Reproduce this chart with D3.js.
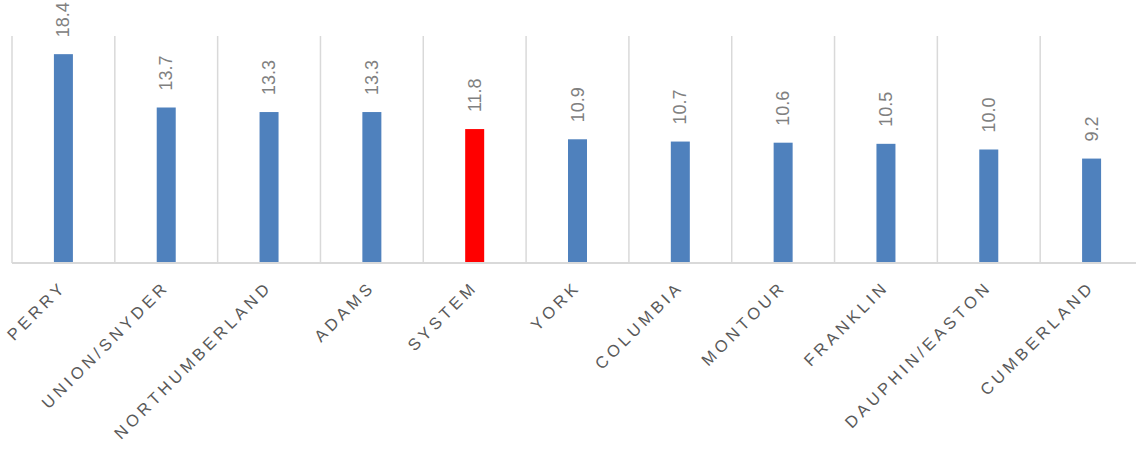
<!DOCTYPE html>
<html>
<head>
<meta charset="utf-8">
<title>Bar chart</title>
<script src="https://d3js.org/d3.v7.min.js"></script>
<style>
  body { margin: 0; background: #fff; }
  svg { display: block; }
</style>
</head>
<body>
<div id="chart"></div>
<script>
// data
var categories = ["PERRY", "UNION/SNYDER", "NORTHUMBERLAND", "ADAMS", "SYSTEM", "YORK",
                  "COLUMBIA", "MONTOUR", "FRANKLIN", "DAUPHIN/EASTON", "CUMBERLAND"];
var values = [18.4, 13.7, 13.3, 13.3, 11.8, 10.9, 10.7, 10.6, 10.5, 10.0, 9.2];
var highlight = "SYSTEM";

var W = 1136, H = 452;
var margin = {top: 36, right: -7, bottom: 189, left: 12};
var width = W - margin.left - margin.right,
    height = H - margin.top - margin.bottom;

var svg = d3.select("#chart")
  .append("svg")
    .attr("width", W)
    .attr("height", H)
  .append("g")
    .attr("transform", "translate(" + margin.left + "," + margin.top + ")");

var x = d3.scaleBand()
  .domain(categories)
  .range([0, width])
  .paddingInner(0)
  .paddingOuter(0);

var y = d3.scaleLinear()
  .domain([0, 20])
  .range([height, 0]);

// vertical gridlines at category boundaries
svg.append("g")
  .selectAll("line")
  .data(categories)
  .enter()
  .append("line")
    .attr("x1", function(d) { return x(d); })
    .attr("x2", function(d) { return x(d); })
    .attr("y1", y(20))
    .attr("y2", y(0))
    .attr("stroke", "#d9d9d9")
    .attr("stroke-width", 1.5);

// bars
var barW = 19;
svg.append("g")
  .selectAll("rect")
  .data(values)
  .enter()
  .append("rect")
    .attr("x", function(d, i) { return x(categories[i]) + x.bandwidth() / 2 - barW / 2; })
    .attr("y", function(d) { return y(d); })
    .attr("width", barW)
    .attr("height", function(d) { return y(0) - y(d); })
    .attr("fill", function(d, i) { return categories[i] == highlight ? "#ff0000" : "#4f81bd"; });

// baseline
svg.append("line")
  .attr("x1", 0)
  .attr("x2", width)
  .attr("y1", y(0))
  .attr("y2", y(0))
  .attr("stroke", "#d9d9d9")
  .attr("stroke-width", 2);

// value labels (rotated)
svg.append("g")
  .selectAll("text")
  .data(values)
  .enter()
  .append("text")
    .attr("transform", function(d, i) {
      var cx = x(categories[i]) + x.bandwidth() / 2;
      return "translate(" + (cx + 6) + "," + (y(d) - 17) + ") rotate(-90)";
    })
    .attr("text-anchor", "start")
    .attr("font-family", "'Liberation Sans', Arial, sans-serif")
    .attr("font-size", "18px")
    .attr("fill", "#808080")
    .text(function(d) { return d.toFixed(1); });

// category labels (rotated -45)
svg.append("g")
  .selectAll("text")
  .data(categories)
  .enter()
  .append("text")
    .attr("transform", function(d) {
      var cx = x(d) + x.bandwidth() / 2;
      return "translate(" + (cx + 4) + "," + (y(0) + 25) + ") rotate(-45)";
    })
    .attr("text-anchor", "end")
    .attr("font-family", "'Liberation Sans', Arial, sans-serif")
    .attr("font-size", "16.5px")
    .attr("letter-spacing", "3.8px")
    .attr("fill", "#595959")
    .text(function(d) { return d; });
</script>
</body>
</html>
